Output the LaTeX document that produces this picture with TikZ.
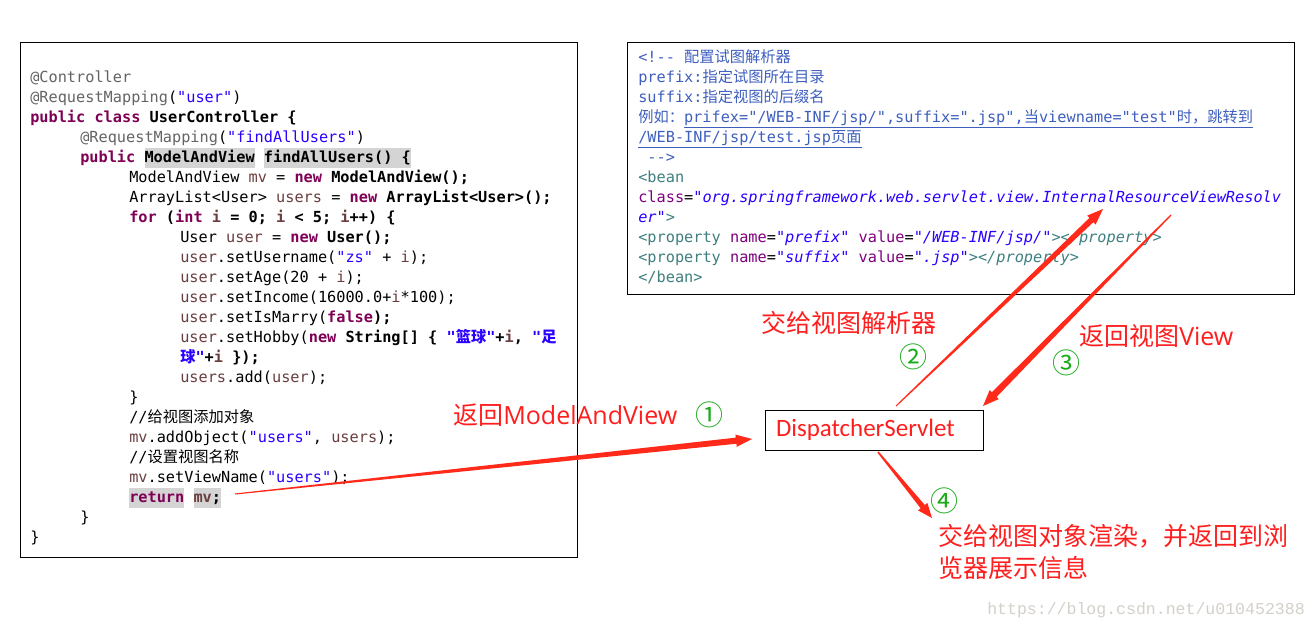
\documentclass[tikz,border=0pt]{standalone}
\usepackage{fontspec}
\usetikzlibrary{calc}
\newfontfamily\codefont{DejaVu Sans Mono}
\newfontfamily\cjk{Noto Sans CJK SC}
\newfontfamily\lblatin{Open Sans}
\newfontfamily\dsfont{Carlito}
\newfontfamily\wmfont{Liberation Mono}
\definecolor{kwc}{HTML}{7F0055}
\definecolor{strc}{HTML}{2A00FF}
\definecolor{varc}{HTML}{6A3E3E}
\definecolor{annc}{HTML}{646464}
\definecolor{hlc}{HTML}{D4D4D4}
\definecolor{cmtc}{HTML}{3F5FBF}
\definecolor{tagc}{HTML}{3F7F7F}
\definecolor{attrc}{HTML}{7F007F}
\definecolor{lblred}{HTML}{FF1E1E}
\definecolor{arrred}{HTML}{FF2A1A}
\definecolor{numgreen}{HTML}{1AAA1A}
\definecolor{wmc}{RGB}{212,208,202}
\newcommand\jkw[1]{{\bfseries\color{kwc}#1}}
\newcommand\jstr[1]{{\color{strc}#1}}
\newcommand\jvar[1]{{\color{varc}#1}}
\newcommand\jann[1]{{\color{annc}#1}}
\newcommand\jcm[1]{{\color{cmtc}#1}}
\newcommand\jtag[1]{{\color{tagc}#1}}
\newcommand\jtagi[1]{{\itshape\color{tagc}#1}}
\newcommand\jattr[1]{{\color{attrc}#1}}
\newcommand\jit[1]{{\itshape\color{strc}#1}}
\newcommand\hlb[1]{{\setlength\fboxsep{0pt}\colorbox{hlc}{\strut #1}}}
\newcommand\indA{\hspace*{37.5pt}}
\newcommand\indB{\hspace*{74.25pt}}
\newcommand\indC{\hspace*{112.5pt}}
\newcommand\taperarrow[6]{%
  \fill[arrred] ($(#1)!#3!90:(#2)$) -- ($(#2)!#5!(#1)!#4!90:(#2)$) -- ($(#2)!#5!(#1)!#6!90:(#2)$) -- (#2) -- ($(#2)!#5!(#1)!#6!-90:(#2)$) -- ($(#2)!#5!(#1)!#4!-90:(#2)$) -- ($(#1)!#3!-90:(#2)$) -- cycle;}
\begin{document}
\begin{tikzpicture}[x=0.75pt,y=-0.75pt,
  panel/.style={draw=black, line width=0.75pt, inner sep=0pt, outer sep=0pt, anchor=north west},
  code/.style={anchor=north west, inner sep=0pt, align=left,
    font={\codefont\fontsize{11.44pt}{15pt}\selectfont\lineskiplimit=-20pt\lineskip=0pt}},
  lbl/.style={anchor=west, inner sep=0pt, text=lblred, font={\cjk\fontsize{18.75pt}{24pt}\selectfont}},
  num/.style={inner sep=0pt, text=numgreen, font={\cjk\fontsize{21pt}{24pt}\selectfont}},
  dsbox/.style={draw=black, line width=0.75pt, minimum width=163.5pt, minimum height=30pt,
    text width=147pt, align=left, inner xsep=8.25pt, inner ysep=0pt, outer sep=0pt,
    text=lblred, font={\dsfont\fontsize{18.7pt}{22pt}\selectfont}}
]
\fill[white] (0,0) rectangle (1315,632);
\useasboundingbox (0,0) rectangle (1315,632);

% panels
\node[panel, minimum width=417.75pt, minimum height=386.25pt] (codebox) at (20,42) {};
\node[panel, minimum width=500.25pt, minimum height=189pt] (xmlbox) at (627,42) {};

% Java code
\node[code] (java) at (30,68) {%
\strut\jann{@Controller}\\
\strut\jann{@RequestMapping}(\jstr{"user"})\\
\strut\jkw{public class} \textbf{UserController \{}\\
\strut\indA\jann{@RequestMapping}(\jstr{"findAllUsers"})\\
\strut\indA\jkw{public} \hlb{\textbf{ModelAndView}} \hlb{\textbf{findAllUsers() \{}}\\
\strut\indB ModelAndView \jvar{mv} = \jkw{new} \textbf{ModelAndView();}\\
\strut\indB ArrayList<User> \jvar{users} = \jkw{new} \textbf{ArrayList<User>();}\\
\strut\indB\jkw{for} \textbf{(\jkw{int} \jvar{i} = 0; \jvar{i} < 5; \jvar{i}++) \{}\\
\strut\indC User \jvar{user} = \jkw{new} \textbf{User();}\\
\strut\indC\jvar{user}.setUsername(\jstr{"zs"} + \jvar{i});\\
\strut\indC\jvar{user}.setAge(20 + \jvar{i});\\
\strut\indC\jvar{user}.setIncome(16000.0+\jvar{i}*100);\\
\strut\indC\jvar{user}.setIsMarry(\jkw{false}\textbf{);}\\
\strut\indC\jvar{user}.setHobby(\jkw{new} \textbf{String[] \{ \jstr{"{\cjk 篮球}"}+\jvar{i}, \jstr{"{\cjk 足}}}\\
\strut\indC\textbf{\jstr{{\cjk 球}"}+\jvar{i} \});}\\
\strut\indC\jvar{users}.add(\jvar{user});\\
\strut\indB\}\\
\strut\indB//{\cjk 给视图添加对象}\\
\strut\indB\jvar{mv}.addObject(\jstr{"users"}, \jvar{users});\\
\strut\indB//{\cjk 设置视图名称}\\
\strut\indB\jvar{mv}.setViewName(\jstr{"users"});\\
\strut\indB\hlb{\jkw{return}} \hlb{\textbf{\jvar{mv};}}\\
\strut\indA\}\\
\strut\}};

% XML config
\node[code] (xml) at (638,48) {%
\strut\jcm{<!-{}- {\cjk 配置试图解析器}}\\
\strut\jcm{prefix:{\cjk 指定试图所在目录}}\\
\strut\jcm{suffix:{\cjk 指定视图的后缀名}}\\
\strut\jcm{{\cjk 例如：}\underline{prifex="/WEB-INF/jsp/",suffix=".jsp",{\cjk 当}viewname="test"{\cjk 时，跳转到}}}\\
\strut\jcm{\underline{/WEB-INF/jsp/test.jsp{\cjk 页面}}}\\
\strut\jcm{\ -{}->}\\
\strut\jtag{<bean}\\
\strut\jattr{class}=\jit{"org.springframework.web.servlet.view.InternalResourceViewResolv}\\
\strut\jit{er"}\jtag{>}\\
\strut\jtag{<property} \jattr{name}=\jit{"prefix"} \jattr{value}=\jit{"/WEB-INF/jsp/"}\jtag{>}\jtagi{</property>}\\
\strut\jtag{<property} \jattr{name}=\jit{"suffix"} \jattr{value}=\jit{".jsp"}\jtag{>}\jtagi{</property>}\\
\strut\jtag{</bean>}};

% DispatcherServlet
\node[dsbox] (ds) at (874,430) {DispatcherServlet};

% labels
\node[lbl] (t1) at (453,415) {返回{\lblatin ModelAndView}};
\node[lbl] (t2) at (761,323) {交给视图解析器};
\node[lbl] (t3) at (1079,336) {返回视图{\lblatin View}};
\node[lbl] (t4a) at (938,536) {交给视图对象渲染，并返回到浏};
\node[lbl] (t4b) at (938,568) {览器展示信息};

% step numbers
\node[num] (n1) at (709,415) {①};
\node[num] (n2) at (913,357) {②};
\node[num] (n3) at (1066,363) {③};
\node[num] (n4) at (944,501) {④};

% watermark
\node[anchor=east, inner sep=0pt, text=wmc, font={\wmfont\fontsize{12.4pt}{14pt}\selectfont}] (wm) at (1305,610) {https://blog.csdn.net/u010452388};

% arrows
\coordinate (a1s) at (235,494);
\coordinate (a1t) at (752,439);
\coordinate (a2s) at (896,406);
\coordinate (a2t) at (1103,209);
\coordinate (a3s) at (1171,215);
\coordinate (a3t) at (983,406);
\coordinate (a4s) at (878,452);
\coordinate (a4t) at (932,518);
\taperarrow{a1s}{a1t}{0.4pt}{2.3pt}{12pt}{4.6pt}
\taperarrow{a2s}{a2t}{0.4pt}{2.2pt}{12pt}{4.6pt}
\taperarrow{a3s}{a3t}{0.5pt}{2.5pt}{12pt}{4.8pt}
\taperarrow{a4s}{a4t}{0.6pt}{2.0pt}{11pt}{4.5pt}
\end{tikzpicture}
\end{document}
